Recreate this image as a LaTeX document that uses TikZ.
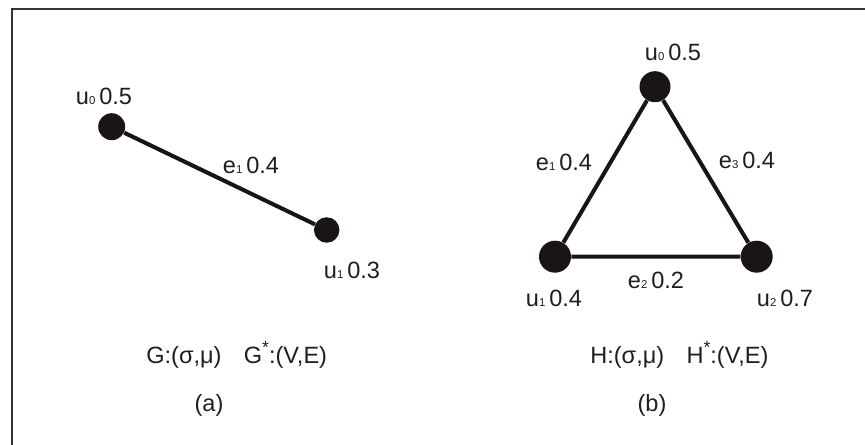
\documentclass[tikz,border=0pt]{standalone}
\usepackage{fontspec}
\setmainfont{Liberation Sans}
\usetikzlibrary{positioning}
\definecolor{vtxfill}{RGB}{26, 20, 20}
\definecolor{inkgray}{RGB}{30, 30, 30}
\definecolor{framegray}{RGB}{50, 50, 50}
\newcommand{\ix}[1]{{\fontsize{6.5}{7}\selectfont #1}}
\newcommand{\st}{\raisebox{0.42em}{\fontsize{10}{10}\selectfont *}}

\begin{document}
\begin{tikzpicture}[
    x=0.02cm, y=-0.02cm,
    vtx/.style={circle, fill=vtxfill, draw=none, inner sep=0pt},
    edge/.style={line width=2.3pt, vtxfill},
    lbl/.style={inner sep=0pt, text=inkgray, font=\fontsize{13.4}{16}\selectfont}
]
\useasboundingbox (0,0) rectangle (865,445);

% Frame (top and left only)
\draw[line width=1.1pt, framegray] (865,9) -- (12,9) -- (12,445);

% (a) single edge
\node[vtx, minimum size=0.54cm] (a0) at (111.7,126.7) {};
\node[vtx, minimum size=0.51cm] (a1) at (326.7,230) {};
\draw[edge] (a0) -- (a1);

\node[lbl] (a0lbl) at (104,96) {u\ix{0}\,0.5};
\node[lbl] (a1lbl) at (352,270) {u\ix{1}\,0.3};
\node[lbl] (ae1lbl) at (251,165) {e\ix{1}\,0.4};

\node[lbl, anchor=west] (agraph) at (146,355) {G:(σ,μ)\hspace{0.95em}G\st:(V,E)};
\node[lbl] (acap) at (209,405) {(a)};

% (b) triangle
\node[vtx, minimum size=0.62cm] (b0) at (655,86.7) {};
\node[vtx, minimum size=0.64cm] (b1) at (555,256.7) {};
\node[vtx, minimum size=0.64cm] (b2) at (756.7,256.7) {};
\draw[edge] (b0) -- (b1) -- (b2) -- (b0);

\node[lbl] (b0lbl) at (673,52) {u\ix{0}\,0.5};
\node[lbl] (b1lbl) at (554,298) {u\ix{1}\,0.4};
\node[lbl] (b2lbl) at (785,298) {u\ix{2}\,0.7};
\node[lbl] (be1lbl) at (564,162) {e\ix{1}\,0.4};
\node[lbl] (be2lbl) at (656,280) {e\ix{2}\,0.2};
\node[lbl] (be3lbl) at (747,160) {e\ix{3}\,0.4};

\node[lbl, anchor=west] (bgraph) at (590,355) {H:(σ,μ)\hspace{0.95em}H\st:(V,E)};
\node[lbl] (bcap) at (652,405) {(b)};

\end{tikzpicture}
\end{document}
